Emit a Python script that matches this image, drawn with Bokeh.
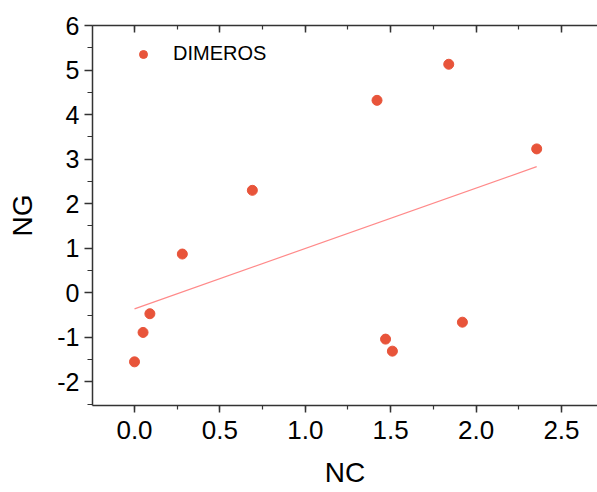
from bokeh.plotting import figure
from bokeh.models import (Range1d, LinearAxis, FixedTicker, Legend, LegendItem,
                          PrintfTickFormatter, CustomJSTickFormatter)
from bokeh.embed import file_html
from bokeh.resources import INLINE
import numpy as np

# data
nc = [0.00, 0.05, 0.09, 0.28, 0.69, 1.42, 1.84, 2.355, 1.47, 1.51, 1.92]
ng = [-1.55, -0.89, -0.47, 0.87, 2.30, 4.32, 5.13, 3.23, -1.04, -1.31, -0.66]
fit_intercept = -0.36
fit_slope = 1.355
series_name = "DIMEROS"
x_title = "NC"
y_title = "NG"
x_ticks = [0.0, 0.5, 1.0, 1.5, 2.0, 2.5]
y_ticks = [-2, -1, 0, 1, 2, 3, 4, 5, 6]

FONT = "Liberation Sans"
AX = "#333333"

xr = Range1d(-0.246, 2.711)
p = figure(width=597, height=492, output_backend="svg", toolbar_location=None,
           x_range=xr, y_range=Range1d(-2.53, 6.0),
           min_border_left=92, min_border_right=0, min_border_top=25, min_border_bottom=87,
           x_axis_location=None, y_axis_location=None)
p.grid.visible = False
p.outline_line_color = None
p.background_fill_color = "white"

x_minor = list(np.arange(-0.25, 2.76, 0.25))
y_minor = list(np.arange(-2.5, 6.01, 0.5))

def style(ax):
    ax.axis_line_color = AX
    ax.axis_line_width = 1.5
    ax.major_tick_line_color = AX
    ax.minor_tick_line_color = AX
    ax.major_tick_line_width = 1.5
    ax.minor_tick_line_width = 1.2
    ax.major_label_text_font = FONT
    ax.major_label_text_color = "black"
    ax.axis_label_text_font = FONT
    ax.axis_label_text_font_style = "normal"
    ax.axis_label_text_color = "black"

xb = LinearAxis(ticker=FixedTicker(ticks=x_ticks, minor_ticks=x_minor), axis_label=x_title,
                formatter=PrintfTickFormatter(format="%.1f"))
style(xb)
xb.major_tick_out = 7; xb.major_tick_in = 0
xb.minor_tick_out = 4; xb.minor_tick_in = 0
xb.major_label_text_font_size = "26px"
xb.major_label_standoff = 8
xb.axis_label_text_font_size = "28px"
xb.axis_label_standoff = 15
p.add_layout(xb, "below")

yl = LinearAxis(ticker=FixedTicker(ticks=y_ticks, minor_ticks=y_minor), axis_label=y_title,
                formatter=PrintfTickFormatter(format="%d"))
style(yl)
yl.major_tick_out = 8; yl.major_tick_in = 0
yl.minor_tick_out = 5; yl.minor_tick_in = 0
yl.major_label_text_font_size = "25px"
yl.major_label_standoff = 5
yl.axis_label_text_font_size = "28px"
yl.axis_label_standoff = 16
p.add_layout(yl, "left")

xt = LinearAxis(ticker=FixedTicker(ticks=x_ticks, minor_ticks=x_minor),
                formatter=CustomJSTickFormatter(code="return ''"))
style(xt)
xt.major_tick_out = 0; xt.major_tick_in = 7
xt.minor_tick_out = 0; xt.minor_tick_in = 4
xt.major_label_standoff = 0
p.add_layout(xt, "above")

x0, x1 = min(nc), max(nc)
p.line([x0, x1], [fit_intercept + fit_slope * x0, fit_intercept + fit_slope * x1],
       line_color="#FF8A8A", line_width=1.2)
r = p.scatter(nc, ng, size=10, fill_color="#E8543A", line_color="#E8543A")

leg = Legend(items=[LegendItem(label=series_name, renderers=[r])], location=(41, 340),
             border_line_color=None, background_fill_alpha=0, padding=0, margin=0,
             label_text_font=FONT, label_text_font_size="20px", label_text_color="black",
             label_standoff=20, glyph_width=20, glyph_height=20, label_height=20)
p.add_layout(leg, "center")

open("out.html", "w").write(file_html(p, INLINE))
